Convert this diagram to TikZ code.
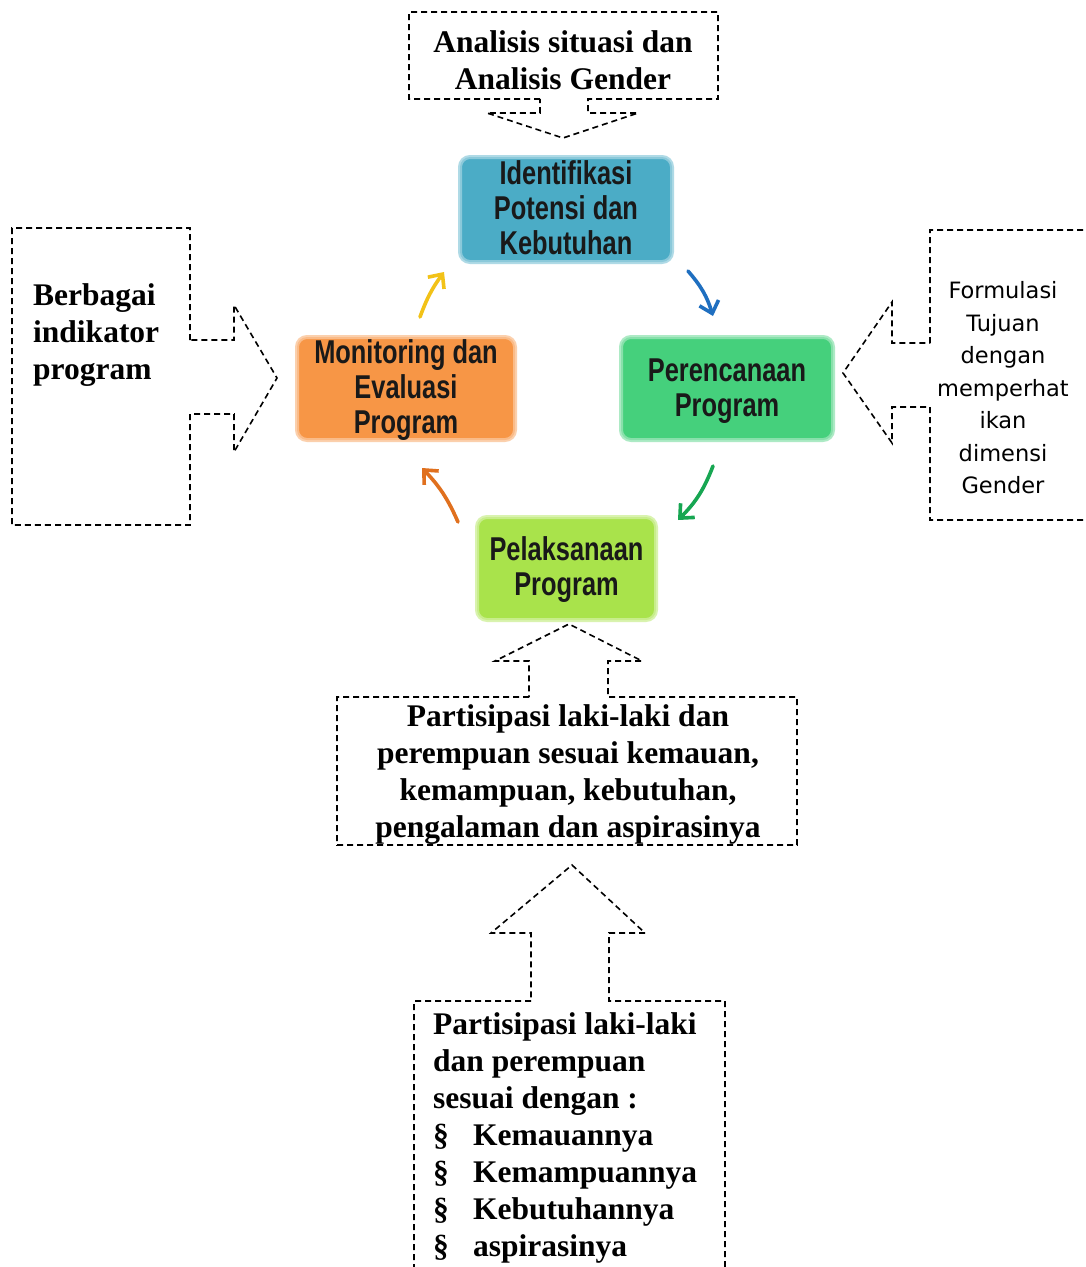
\documentclass[tikz,border=0pt]{standalone}
\usepackage{fontspec}
\setmainfont{Liberation Serif}
\newfontfamily\stagefont[FakeStretch=0.77]{Liberation Sans Bold}
\newfontfamily\notefont{DejaVu Sans}
\usetikzlibrary{arrows.meta}

\definecolor{cIdent}{HTML}{4BACC6}
\definecolor{cPlan}{HTML}{45D07C}
\definecolor{cDo}{HTML}{A9E34B}
\definecolor{cMon}{HTML}{F79646}
\definecolor{aBlue}{HTML}{1F6FC0}
\definecolor{aGreen}{HTML}{17A652}
\definecolor{aOrange}{HTML}{E0701E}
\definecolor{aYellow}{HTML}{F2C218}

\tikzset{
  callout/.style={draw=black, dash pattern=on 6pt off 4pt, line width=1.6pt, line join=miter},
  stage/.style={fill=#1, draw=#1!55!white, draw opacity=0.8, line width=4pt,
    rounded corners=10pt, inner sep=0pt},
  stagetext/.style={inner sep=0pt, align=center, text=black!90,
    font=\stagefont\fontsize{33}{35}\selectfont},
  serifbold/.style={inner sep=0pt, font=\bfseries\fontsize{31.5}{37}\selectfont},
  cycarrow/.style={line width=3.6pt, line cap=round, -{Straight Barb[length=11pt,width=20pt,line width=3.6pt]}}
}

\begin{document}
\begin{tikzpicture}[x=1pt,y=-1pt]
\useasboundingbox (0,0) rectangle (1085,1267);
\clip (0,0) rectangle (1085,1267);
\fill[white] (0,0) rectangle (1085,1267);

% cycle stages
\node[stage=cIdent, minimum width=212pt, minimum height=105pt] (ident) at (566,209.5) {};
\node[stage=cPlan, minimum width=212pt, minimum height=103pt] (plan) at (727,388.5) {};
\node[stage=cDo, minimum width=179pt, minimum height=103pt] (exec) at (566.5,568.5) {};
\node[stage=cMon, minimum width=218pt, minimum height=103pt] (mon) at (406,388.5) {};
\node[stagetext] (identtxt) at ([yshift=2pt]ident.center) {Identifikasi\\Potensi dan\\Kebutuhan};
\node[stagetext] (plantxt) at ([yshift=-3pt]plan.center) {Perencanaan\\Program};
\node[stagetext] (exectxt) at ([yshift=-1pt]exec.center) {Pelaksanaan\\Program};
\node[stagetext] (montxt) at ([yshift=-2pt]mon.center) {Monitoring dan\\Evaluasi\\Program};

% cycle arrows
\coordinate (b1) at (688,271); \coordinate (b2) at (713,316);
\coordinate (g1) at (713,466); \coordinate (g2) at (678,520);
\coordinate (o1) at (458,522); \coordinate (o2) at (422,468);
\coordinate (y1) at (420,317); \coordinate (y2) at (444,272);
\draw[cycarrow, aBlue] (b1) to[bend left=12] (b2);
\draw[cycarrow, aGreen] (g1) to[bend left=12] (g2);
\draw[cycarrow, aOrange] (o1) to[bend right=10] (o2);
\draw[cycarrow, aYellow] (y1) to[bend left=8] (y2);

% callout: situation and gender analysis
\draw[callout] (540,99) -- (409,99) -- (409,12) -- (718,12) -- (718,99) -- (588,99)
  -- (588,113) -- (638,113) -- (563,138) -- (487,113) -- (540,113) -- cycle;
\node[serifbold, align=center] (analisis) at (563,60) {Analisis situasi dan\\Analisis Gender};

% callout: indicators
\draw[callout] (190,340) -- (190,228) -- (12,228) -- (12,525) -- (190,525) -- (190,414)
  -- (234,414) -- (234,452) -- (277,378) -- (234,305) -- (234,340) -- cycle;
\node[serifbold, align=left, anchor=west] (indikator) at (33,335) {Berbagai\\indikator\\program};

% callout: objectives
\draw[callout] (930,343) -- (930,230) -- (1100,230) -- (1100,520) -- (930,520) -- (930,407)
  -- (892,407) -- (892,443) -- (843,373) -- (892,302) -- (892,343) -- cycle;
\node[inner sep=0pt, align=center, font=\notefont\fontsize{22.5}{32.5}\selectfont] (tujuan) at (1003,388)
  {Formulasi\\Tujuan\\dengan\\memperhat\\ikan\\dimensi\\Gender};

% callout: participation
\draw[callout] (529,697) -- (337,697) -- (337,845) -- (797,845) -- (797,697) -- (608,697)
  -- (608,661) -- (642,661) -- (569,624) -- (495,661) -- (529,661) -- cycle;
\node[serifbold, align=center] (partisipasi) at (568,775)
  {Partisipasi laki-laki dan\\perempuan sesuai kemauan,\\kemampuan, kebutuhan,\\pengalaman dan aspirasinya};

% callout: participation details
\draw[callout] (531,1001) -- (414,1001) -- (414,1290) -- (725,1290) -- (725,1001) -- (609,1001)
  -- (609,933) -- (645,933) -- (572,865) -- (491,933) -- (531,933) -- cycle;
\node[serifbold, align=left, anchor=west] (rincian) at (433,1138)
  {Partisipasi laki-laki\\dan perempuan\\sesuai dengan :\\
   \makebox[40pt][l]{§}Kemauannya\\
   \makebox[40pt][l]{§}Kemampuannya\\
   \makebox[40pt][l]{§}Kebutuhannya\\
   \makebox[40pt][l]{§}aspirasinya};
\end{tikzpicture}
\end{document}
